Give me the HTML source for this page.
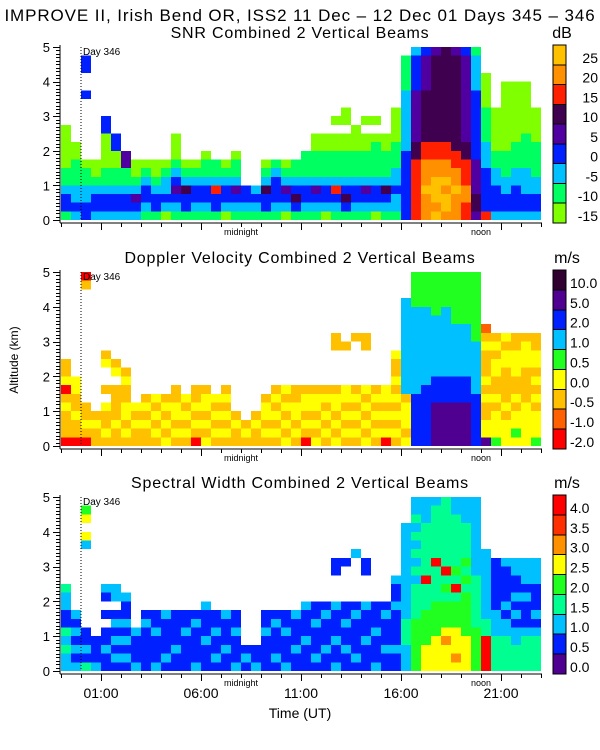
<!DOCTYPE html>
<html><head><meta charset="utf-8">
<style>
html,body{margin:0;padding:0;background:#fff;}
svg{display:block;font-family:"Liberation Sans",sans-serif;}
</style></head>
<body>
<svg id="chart" width="600" height="750" viewBox="0 0 600 750" xmlns="http://www.w3.org/2000/svg">
<rect x="0" y="0" width="600" height="750" fill="#fff"/>
<text x="300" y="21" text-anchor="middle" font-size="17" letter-spacing="0.9">IMPROVE II,  Irish Bend OR, ISS2  11 Dec – 12 Dec 01 Days 345 – 346</text>
<text x="18" y="360" text-anchor="middle" font-size="12" transform="rotate(-90 18 360)">Altitude (km)</text>
<text x="300" y="718" text-anchor="middle" font-size="14">Time (UT)</text>
<g id="layer"></g>
</svg>
<script>
// ---- data ----
const hourLabels = ["01:00","06:00","11:00","16:00","21:00"];
const hourLabelOffsets = [2,7,12,17,22]; // hours after 23:00 start
const snrColors = ["#80ff00","#00ff60","#00c0ff","#0020ff","#5000a0","#400050","#ff2000","#ff9000","#ffc000"];
const snrTicks = ["-15","-10","-5","0","5","10","15","20","25"];
const velColors = ["#ff0000","#ff6000","#ffc000","#ffff00","#20ff20","#00c0ff","#0020ff","#500090","#300030"];
const velTicks = ["-2.0","-1.0","-0.5","0.0","0.5","1.0","2.0","5.0","10.0"];
const widColors = ["#500090","#0020ff","#00c0ff","#00ff90","#20ff20","#ffff00","#ff9000","#ff3000","#ff0000"];
const widTicks = ["0.0","0.5","1.0","1.5","2.0","2.5","3.0","3.5","4.0"];
// column profiles (30-min columns from 23:00), char = level per 0.25 km bin from ground up
const snrProfiles = [
"13321100000.........","232211100...........","3322110.......3..33.","2332100.............",
"233211000033........","2332110033..........","23321144............","2342100.............",
"1233210.............","1332100.............","0232210.............","1234321000..........",
"1335210.............","1233210.............","12332110............","1336211.............",
"0233210.............","12342110............","1233................","1232................",
"1335210.............","1233321.............","0234210.............","1353211.............",
"12332111............","1234211100..........","0233211100..........","1236211100.0........",
"1353211100.00.......","12332111000.........","1234211100.0........","0233211110.0........",
"1235211100..........","1223221110000.......","3333333322222221111.","66666665544444433332",
"77787776655555544443","87888776655555555554","78878776655555555555","77787766555555555554",
"66776665544444444443","45544443333333322221","63333322211110000...","2333221100000.......",
"2332211100000000....","2333221110000000....","2332221111000000....","2332211110000......."];
const velProfiles = [
"0222320322..........","02232233............","02322.............20","2232................",
"23223.2..32.........","2232222.32..........","232332232...........","22323...............",
"223232..............","232323..............","323232..............","2323322.............",
"232323..............","0232322.............","3232332.............","232323..............",
"2323232.............","2232................","232.................","2232................",
"232332..............","2323232.............","3232323.............","2323322.............",
"0232332.............","3232332.............","2323232.............","3232332....22.......",
"2323233....2........","2323232.....2.......","3232323....22.......","2323232.............",
"0323233.............","23232323223.........","32333255555555555...","66666655555555554444",
"66666665555555554444","77777666555555544444","77777666555555554444","77777666555555444444",
"77777666555555444444","66666655555544444444","73322323222321......","4333232233232.......",
"3332322223323.......","3433232233322.......","3333322223332.......","4333232323322......."];
const widProfiles = [
"2232311223..........","2121212.............","31211.........25.54.","2111................",
"11211.1.12..........","1212121.22..........","121212112...........","21112...............",
"1111121.............","2111211.............","1211112.............","1121111.............",
"1111211.............","2111121.............","11121112............","1211211.............",
"1121112.............","2111211.............","121.................","211.................",
"1111211.............","1211121.............","2111211.............","1121112.............",
"11121112............","12111211............","11211121............","21121112...11.......",
"11211211....1.......","12111121.....2......","11121112...11.......","21112111............",
"11211121............","11211112112.........","22233322222222222...","44444433332323232322",
"55544443338333333222","55554444333383333332","55565444343833333333","56555444383433333322",
"55554444434343333222","44444333333222222222","88883322222222......","3333222111111.......",
"3333221211112.......","3332212121122.......","3333211121222.......","3333212111222......."];
const panelTitles = ["SNR Combined 2 Vertical Beams","Doppler Velocity Combined 2 Vertical Beams","Spectral Width Combined 2 Vertical Beams"];
const panelUnits = ["dB","m/s","m/s"];

// ---- layout ----
const NS="http://www.w3.org/2000/svg";
const X0=61, X1=541, HOURS=24, COLH=0.5, BINKM=0.25, MAXKM=5;
const panels=[{top:47,bot:220,key:"snr"},{top:272,bot:446,key:"velocity"},{top:497,bot:671,key:"width"}];
const allProfiles=[snrProfiles,velProfiles,widProfiles];
const allColors=[snrColors,velColors,widColors];
const allTicks=[snrTicks,velTicks,widTicks];
const layer=document.getElementById('layer');
function mk(tag,attrs,parent){const e=document.createElementNS(NS,tag);for(const k in attrs)e.setAttribute(k,attrs[k]);(parent||layer).appendChild(e);return e;}
function xScale(h){return X0+(h/HOURS)*(X1-X0);}

panels.forEach((p,pi)=>{
  const yScale=km=>p.bot-(km/MAXKM)*(p.bot-p.top);
  const g=mk('g',{});
  
  
  const t=mk('text',{x:300,y:p.top-9,'text-anchor':'middle','font-size':16,'letter-spacing':'0.8'},g);
  t.textContent=panelTitles[pi];
  
  
  const u=mk('text',{x:pi===0?562:567,y:p.top-9,'text-anchor':'middle','font-size':16},g);
  u.textContent=panelUnits[pi];
  
  
  const hm=mk('g',{'shape-rendering':'crispEdges'},g);
  
  
  allProfiles[pi].forEach((prof,ci)=>{
    const xa=xScale(ci*COLH), xb=xScale((ci+1)*COLH);
    for(let b=0;b<prof.length;b++){
      const ch=prof[b]; if(ch==='.') continue;
      const ya=yScale((b+1)*BINKM), yb=yScale(b*BINKM);
      const r=mk('rect',{x:xa,y:ya,width:xb-xa,height:yb-ya,fill:allColors[pi][+ch]},hm);
      
      
    }
  });
  const dl=mk('line',{x1:xScale(1),x2:xScale(1),y1:p.top,y2:p.bot,stroke:'#000','stroke-dasharray':'1,2','stroke-width':1},g);
  
  
  const dt=mk('text',{x:xScale(1)+2,y:p.top+8,'font-size':10},g);
  dt.textContent='Day 346';
  
  
  const ax=mk('g',{stroke:'#000','stroke-width':1,'shape-rendering':'crispEdges'},g);
  
  
  mk('line',{x1:X0-1,x2:X0-1,y1:p.top-2,y2:p.bot+3},ax);
  for(let k=0;k<=50;k++){
    const y=Math.round(yScale(k/10))+0.5;
    mk('line',{x1:X0-1-(k%10===0?7:4),x2:X0-1,y1:y,y2:y},ax);
  }
  for(let k=0;k<=5;k++){
    const lt=mk('text',{x:X0-11,y:yScale(k)+5,'text-anchor':'end','font-size':13},g);
    lt.textContent=String(k);
    
    
  }
  const xa=p.bot+3;
  mk('line',{x1:X0-1,x2:X1+1,y1:xa,y2:xa},ax);
  for(let h=0;h<=HOURS;h++){
    const x=Math.round(xScale(h))+0.5;
    const major=hourLabelOffsets.includes(h);
    mk('line',{x1:x,x2:x,y1:xa,y2:xa+(major?7:4)},ax);
  }
  const mn=mk('text',{x:xScale(9),y:xa+12,'text-anchor':'middle','font-size':9},g);
  mn.textContent='midnight';
  
  
  const nn=mk('text',{x:xScale(21),y:xa+12,'text-anchor':'middle','font-size':9},g);
  nn.textContent='noon';
  
  
  const cb=mk('g',{'shape-rendering':'crispEdges'},g);
  
  
  const cTop=p.top-2, cBot=p.bot+3, n=allColors[pi].length, bh=(cBot-cTop)/n;
  for(let i=0;i<n;i++){
    const y0=cBot-(i+1)*bh;
    const r=mk('rect',{x:553,y:y0,width:13,height:bh,fill:allColors[pi][i],stroke:'#000','stroke-width':1},cb);
    
    
    const lt=mk('text',{x:pi===0?598:570,y:y0+bh-2,'text-anchor':pi===0?'end':'start','font-size':14},cb);
    lt.textContent=allTicks[pi][i];
    
    
  }
});
hourLabels.forEach((lab,i)=>{
  const t=mk('text',{x:xScale(hourLabelOffsets[i]),y:698,'text-anchor':'middle','font-size':14});
  t.textContent=lab;
  
  
});
</script>
</body></html>
